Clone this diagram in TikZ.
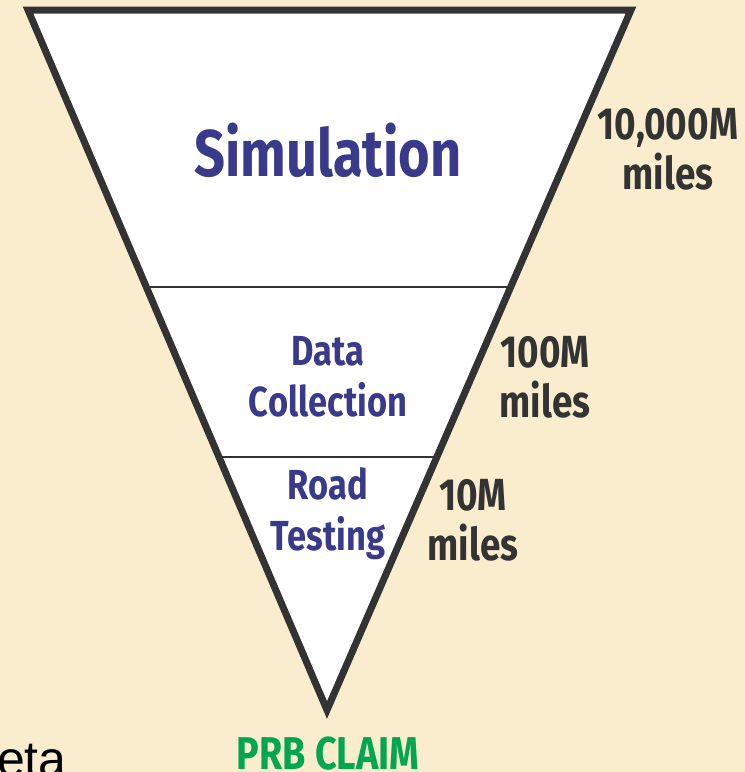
\documentclass[tikz,border=0pt]{standalone}
\usepackage{fontspec}
\usepackage{xcolor}
\usepackage{tikz}
\usetikzlibrary{calc, positioning}

\setmainfont{Liberation Sans}
\newfontfamily\funnelfont[FakeStretch=0.82]{Fira Sans}

\definecolor{parchment}{RGB}{249,237,206}
\definecolor{stageblue}{RGB}{58,58,140}
\definecolor{mileink}{RGB}{51,51,51}
\definecolor{claimgreen}{RGB}{0,166,80}

\begin{document}
\begin{tikzpicture}[x=1pt, y=-1pt,
    stage/.style={text=stageblue, align=center, font=\funnelfont\bfseries\fontsize{42}{51}\selectfont},
    miles/.style={text=mileink, align=center, font=\funnelfont\bfseries\fontsize{45}{50}\selectfont},
    divider/.style={draw=mileink, line width=2.5pt}]

    % Background
    \fill[parchment] (0, 0) rectangle (745, 772);
    \useasboundingbox (0, 0) rectangle (745, 772);
    \clip (0, 0) rectangle (745, 772);

    % Funnel corners
    \coordinate (topL) at (28, 10);
    \coordinate (topR) at (631, 10);
    \coordinate (apex) at (327, 710);

    % Dividers on the sides
    \coordinate (midL) at ($(topL)!0.3957!(apex)$);
    \coordinate (midR) at ($(topR)!0.3957!(apex)$);
    \coordinate (lowL) at ($(topL)!0.6386!(apex)$);
    \coordinate (lowR) at ($(topR)!0.6386!(apex)$);

    % Funnel
    \filldraw[fill=white, draw=mileink, line width=7pt, miter limit=20] (topL) -- (topR) -- (apex) -- cycle;
    \draw[divider] (midL) -- (midR);
    \draw[divider] (lowL) -- (lowR);

    % Stage labels
    \node[stage, font=\funnelfont\bfseries\fontsize{66}{70}\selectfont] (sim) at (328, 150) {Simulation};
    \node[stage] (data) at (328, 377) {Data\\Collection};
    \node[stage] (road) at (328, 514) {Road\\Testing};

    % Mileage labels
    \node[miles] (simMiles) at (668, 149) {10,000M\\miles};
    \node[miles] (dataMiles) at (545, 377) {100M\\miles};
    \node[miles] (roadMiles) at (473, 520) {10M\\miles};

    % Claim at the tip
    \node[text=claimgreen, font=\funnelfont\bfseries\fontsize{46}{50}\selectfont, anchor=base] (claim) at (328, 769) {PRB CLAIM};

    % Cut-off word
    \node[text=black, font=\fontsize{50}{54}\selectfont, anchor=base west, inner sep=0pt] (cutWord) at (-3, 776) {eta};

\end{tikzpicture}
\end{document}
